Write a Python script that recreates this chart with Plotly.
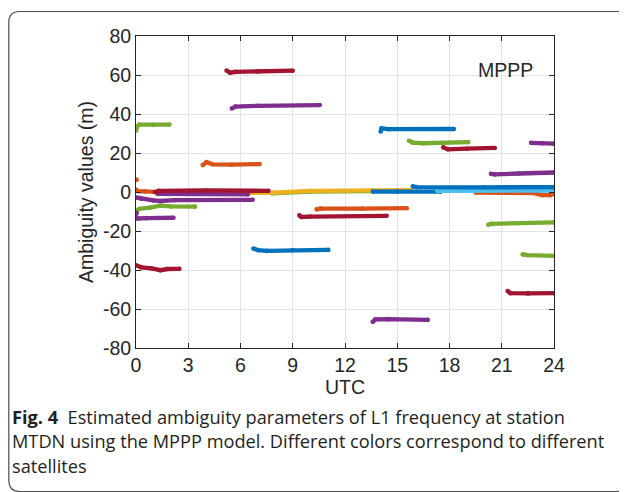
import plotly.graph_objects as go

# ---------------- data ----------------
# hours (UTC) and ambiguity values (m) for each satellite arc
t_red_62 = [5.2, 5.4, 5.7, 7.0, 9.0]
v_red_62 = [62.3, 61.2, 61.6, 61.8, 62.2]
t_pur_44 = [5.5, 5.7, 7.0, 10.55]
v_pur_44 = [42.8, 43.8, 44.2, 44.6]
t_grn_34 = [0.0, 0.05, 0.2, 1.0, 1.92]
v_grn_34 = [31.5, 33.5, 34.6, 34.4, 34.6]
t_org_14 = [3.83, 4.05, 4.4, 5.5, 7.1]
v_org_14 = [13.8, 15.3, 14.2, 14.0, 14.3]
t_blu_32 = [14.05, 14.1, 14.5, 18.25]
v_blu_32 = [31.0, 32.6, 32.2, 32.3]
t_grn_25 = [15.67, 15.9, 16.5, 19.08]
v_grn_25 = [26.3, 25.3, 25.0, 25.6]
t_red_22 = [17.64, 17.9, 19.0, 20.6]
v_red_22 = [22.9, 21.9, 22.2, 22.6]
t_pur_25 = [22.68, 23.3, 24.0]
v_pur_25 = [25.2, 25.0, 24.8]
t_pur_9 = [20.38, 20.6, 22.0, 24.0]
v_pur_9 = [9.3, 9.0, 9.5, 10.0]
t_org_dot = [0.0, 0.04]
v_org_dot = [6.3, 6.3]
t_org_0 = [0.0, 0.1, 0.5, 1.2, 3.0, 4.8]
v_org_0 = [1.2, 0.5, 0.3, 0.0, -0.8, -1.0]
t_yel_0 = [1.2, 4.8, 7.6, 7.85, 10.0, 13.6, 15.8]
v_yel_0 = [-1.0, -0.9, -0.3, -0.3, 0.6, 0.9, 1.0]
t_grn_0 = [7.8, 10.0, 13.5]
v_grn_0 = [-0.7, 0.2, 0.5]
t_red_0 = [1.09, 1.3, 4.0, 7.6]
v_red_0 = [0.0, 0.6, 0.8, 0.6]
t_pur_m1 = [1.27, 6.43]
v_pur_m1 = [-1.0, -1.2]
t_blu_0 = [13.6, 15.0, 17.5]
v_blu_0 = [0.2, 0.3, 0.2]
t_blu_2 = [15.9, 16.1, 20.0, 24.0]
v_blu_2 = [2.9, 2.5, 2.4, 2.5]
t_lbl_0 = [17.3, 24.0]
v_lbl_0 = [0.6, 0.7]
t_org_r = [19.5, 22.8, 23.3, 23.8, 24.0]
v_org_r = [-0.3, -0.5, -1.6, -1.6, -0.8]
t_pur_m4 = [0.0, 0.3, 1.0, 1.4, 2.2, 6.7]
v_pur_m4 = [-2.8, -3.4, -4.3, -4.6, -4.2, -4.0]
t_grn_m8 = [0.0, 0.2, 0.8, 1.4, 2.0, 3.39]
v_grn_m8 = [-9.8, -8.6, -8.0, -7.0, -7.4, -7.5]
t_pur_dot = [0.0, 0.04]
v_pur_dot = [-10.8, -10.8]
t_pur_m13 = [0.0, 0.1, 0.6, 2.15]
v_pur_m13 = [-12.8, -13.6, -13.4, -13.2]
t_org_m8 = [10.37, 10.6, 13.0, 15.55]
v_org_m8 = [-8.9, -8.5, -8.5, -8.3]
t_red_m12 = [9.38, 9.5, 10.0, 14.39]
v_red_m12 = [-12.0, -12.8, -12.6, -12.2]
t_grn_m16 = [20.23, 20.4, 22.0, 24.0]
v_grn_m16 = [-16.8, -16.3, -16.0, -15.6]
t_grn_m32 = [22.2, 22.5, 24.0]
v_grn_m32 = [-32.0, -32.4, -32.8]
t_blu_m30 = [6.74, 7.0, 7.5, 9.0, 11.04]
v_blu_m30 = [-29.0, -29.8, -30.2, -29.8, -29.7]
t_red_m40 = [0.0, 0.3, 0.9, 1.4, 1.8, 2.49]
v_red_m40 = [-37.6, -38.6, -39.2, -40.1, -39.5, -39.4]
t_red_m52 = [21.34, 21.5, 22.5, 24.0]
v_red_m52 = [-50.8, -51.9, -52.0, -51.9]
t_pur_m66 = [13.59, 13.75, 14.5, 16.75]
v_pur_m66 = [-66.6, -65.3, -65.2, -65.6]

x_ticks = [0, 3, 6, 9, 12, 15, 18, 21, 24]
y_ticks = [-80, -60, -40, -20, 0, 20, 40, 60, 80]

# ---------------- styling ----------------
C = {"blue": "#0072BD", "orange": "#D95319", "yellow": "#EDB120",
     "purple": "#7E2F8E", "green": "#77AC30", "lblue": "#4DBEEE",
     "red": "#A2142F"}

arcs = [
    (t_grn_0, v_grn_0, "green"), (t_yel_0, v_yel_0, "yellow"),
    (t_org_0, v_org_0, "orange"), (t_org_dot, v_org_dot, "orange"),
    (t_pur_m1, v_pur_m1, "purple"), (t_red_0, v_red_0, "red"),
    (t_blu_0, v_blu_0, "blue"), (t_org_r, v_org_r, "orange"),
    (t_lbl_0, v_lbl_0, "lblue"), (t_blu_2, v_blu_2, "blue"),
    (t_red_62, v_red_62, "red"), (t_pur_44, v_pur_44, "purple"),
    (t_grn_34, v_grn_34, "green"), (t_org_14, v_org_14, "orange"),
    (t_blu_32, v_blu_32, "blue"), (t_grn_25, v_grn_25, "green"),
    (t_red_22, v_red_22, "red"), (t_pur_25, v_pur_25, "purple"),
    (t_pur_9, v_pur_9, "purple"), (t_pur_m4, v_pur_m4, "purple"),
    (t_grn_m8, v_grn_m8, "green"), (t_pur_dot, v_pur_dot, "purple"),
    (t_pur_m13, v_pur_m13, "purple"), (t_org_m8, v_org_m8, "orange"),
    (t_red_m12, v_red_m12, "red"), (t_grn_m16, v_grn_m16, "green"),
    (t_grn_m32, v_grn_m32, "green"), (t_blu_m30, v_blu_m30, "blue"),
    (t_red_m40, v_red_m40, "red"), (t_red_m52, v_red_m52, "red"),
    (t_pur_m66, v_pur_m66, "purple"),
]

# page has an 8px body margin: work in screen px and subtract the offset
OFF = 8
W, H = 627 - OFF, 492 - OFF
L, R, T, B = 136 - OFF, 554 - OFF, 36 - OFF, 348 - OFF  # plot area

fig = go.Figure()
for t, v, c in arcs:
    fig.add_trace(go.Scatter(x=t, y=v, mode="lines+markers",
                             line=dict(color=C[c], width=4.3),
                             marker=dict(color=C[c], size=4.6, line=dict(width=0)),
                             cliponaxis=True,
                             showlegend=False, hoverinfo="skip"))

tickfont = dict(family="Liberation Sans, Arial, sans-serif", size=19.5, color="#262626")
axis_common = dict(showline=True, linecolor="#262626", linewidth=1, mirror="ticks",
                   ticks="inside", ticklen=5, tickcolor="#262626",
                   showgrid=True, gridcolor="#E3E3E3", gridwidth=1,
                   zeroline=False, tickfont=tickfont, automargin=False)

fig.update_xaxes(range=[0, 24], tickvals=x_ticks, ticktext=[str(v) for v in x_ticks],
                 title=dict(text="UTC", font=tickfont, standoff=2), **axis_common)
fig.update_yaxes(range=[-80, 80], tickvals=y_ticks, ticktext=[str(v) for v in y_ticks],
                 title=dict(text="Ambiguity values (m)", font=tickfont, standoff=4),
                 **axis_common)

def px(xs):  # screen px -> paper
    return (xs - OFF - L) / (R - L)

def py(ys):
    return (B - (ys - OFF)) / (B - T)

# rounded frame around the figure (screen px)
x0, x1, y0, y1, r = 8.8, 629, 11.5, 491.5, 11
path = (f"M {px(x0)},{py(y0+r)} L {px(x0)},{py(y1-r)} "
        f"Q {px(x0)},{py(y1)} {px(x0+r)},{py(y1)} L {px(x1-r)},{py(y1)} "
        f"Q {px(x1)},{py(y1)} {px(x1)},{py(y1-r)} L {px(x1)},{py(y0+r)} "
        f"Q {px(x1)},{py(y0)} {px(x1-r)},{py(y0)} L {px(x0+r)},{py(y0)} "
        f"Q {px(x0)},{py(y0)} {px(x0)},{py(y0+r)} Z")
fig.add_shape(type="path", path=path, xref="paper", yref="paper",
              line=dict(color="#4D4D4D", width=1.2))

annots = [
    dict(text="MPPP", x=px(505), y=py(70), xanchor="center", yanchor="middle",
         font=tickfont),
]
cap_font = dict(family="Open Sans, Noto Sans, sans-serif", size=18.2, color="#231F20")
captions = [
    "<b>Fig. 4</b>  Estimated ambiguity parameters of L1 frequency at station",
    "MTDN using the MPPP model. Different colors correspond to different",
    "satellites",
]
for i, txt in enumerate(captions):
    annots.append(dict(text=txt, x=px(10), y=py(417 + 24.3 * i), xanchor="left",
                       yanchor="middle", font=cap_font))
for a in annots:
    fig.add_annotation(xref="paper", yref="paper", showarrow=False, **a)

fig.update_layout(width=W, height=H, margin=dict(l=L, r=W - R, t=T, b=H - B),
                  paper_bgcolor="white", plot_bgcolor="white")

fig.write_html("out.html")
